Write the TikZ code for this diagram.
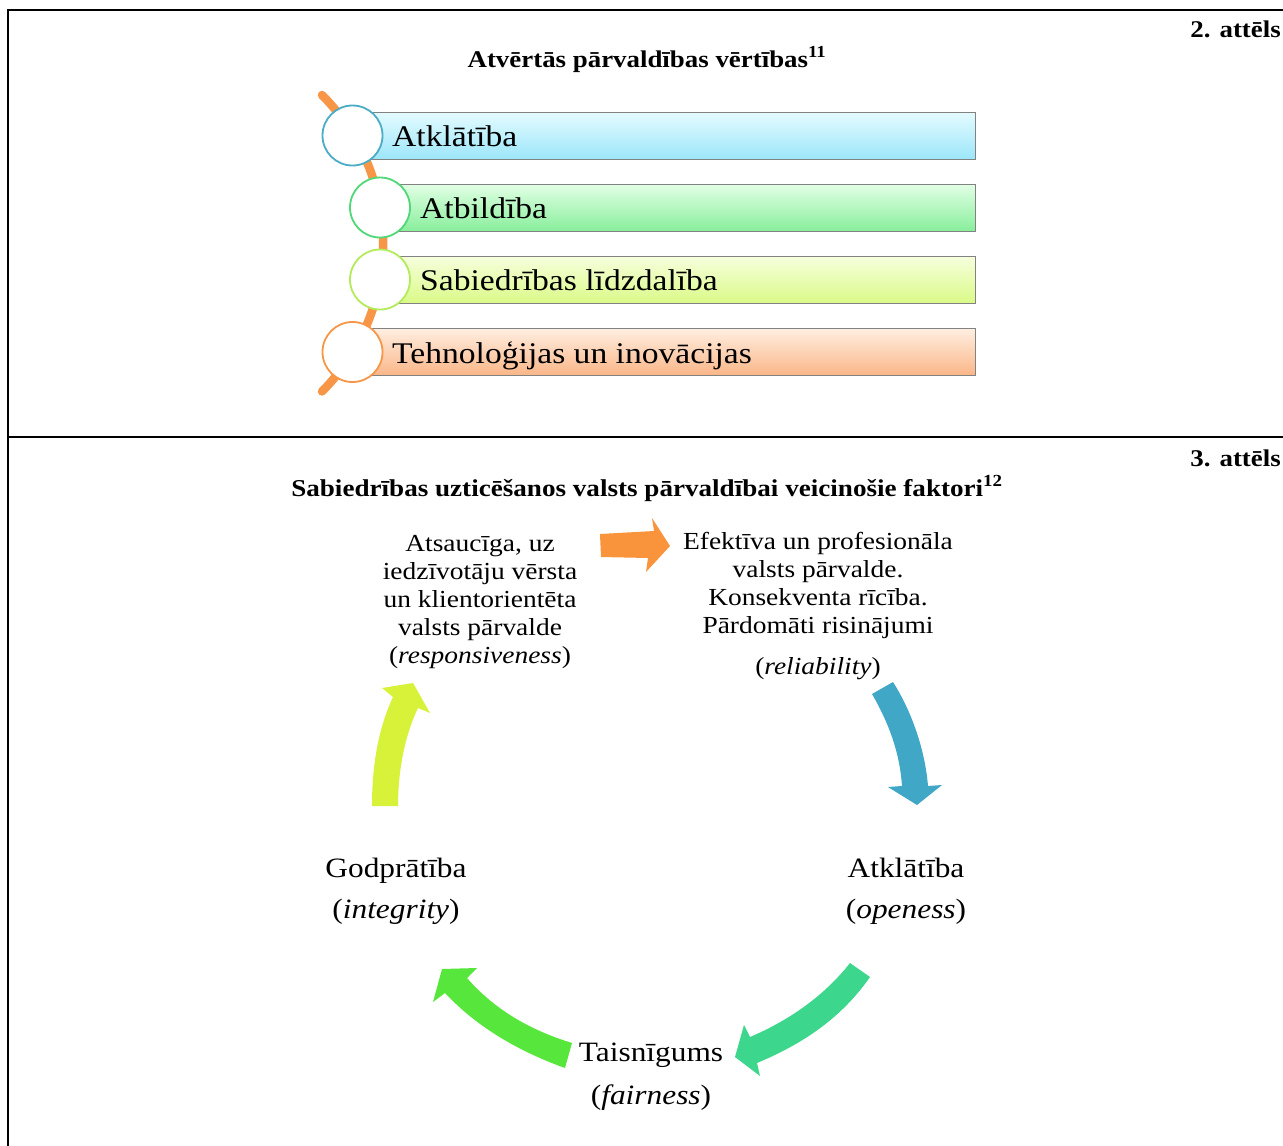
\documentclass[tikz,border=0pt]{standalone}
\usepackage{fontspec}
\setmainfont{Liberation Serif}[FakeStretch=1.12]
\definecolor{cblue}{RGB}{75,172,198}
\definecolor{cgreen}{RGB}{80,215,120}
\definecolor{clime}{RGB}{180,235,90}
\definecolor{corange}{RGB}{247,150,70}
\definecolor{aorange}{RGB}{249,148,60}
\definecolor{ablue}{RGB}{64,168,198}
\definecolor{ateal}{RGB}{60,215,140}
\definecolor{agreen}{RGB}{87,230,60}
\definecolor{ayellow}{RGB}{216,242,58}
\definecolor{barline}{RGB}{130,130,130}
\tikzset{
  bar/.style={draw=barline, line width=1.2pt, anchor=north west, minimum height=47pt, inner sep=0pt},
  ring/.style={circle, draw, fill=white, line width=1.8pt, minimum size=60pt, inner sep=0pt},
  bartext/.style={anchor=base west, inner sep=0pt, font=\fontsize{30}{36}\selectfont},
  ttl/.style={anchor=base, inner sep=0pt, font=\fontsize{24}{28}\selectfont\bfseries},
  fig/.style={anchor=base east, inner sep=0pt, font=\fontsize{24}{28}\selectfont\bfseries},
  body/.style={anchor=base, inner sep=0pt, align=center, font=\fontsize{24.5}{28}\selectfont},
  big/.style={anchor=base, inner sep=0pt, font=\fontsize{28}{32}\selectfont},
}
\begin{document}
\begin{tikzpicture}[x=1pt,y=-1pt]
\useasboundingbox (0,0) rectangle (1283,1146);
\fill[white] (0,0) rectangle (1283,1146);
% frame
\draw[line width=2pt] (8,1146) -- (8,10) -- (1283,10);
\draw[line width=2pt] (8,437) -- (1283,437);
% ---- figure 2
\node[fig] (f2) at (1281,37) {2. attēls};
\node[ttl] (t2) at (647,67) {Atvērtās pārvaldības vērtības\textsuperscript{11}};
\draw[corange, line width=8.5pt, line cap=round] (322,95) arc[start angle=44.9, end angle=-44.9, radius=210pt];
\node[bar, top color={rgb,255:red,228;green,251;blue,255}, bottom color={rgb,255:red,155;green,230;blue,250}, minimum width=623pt] (b1) at (352,112) {};
\node[bar, top color={rgb,255:red,225;green,255;blue,228}, bottom color={rgb,255:red,135;green,238;blue,155}, minimum width=595pt] (b2) at (380,184) {};
\node[bar, top color={rgb,255:red,246;green,255;blue,220}, bottom color={rgb,255:red,218;green,250;blue,135}, minimum width=595pt] (b3) at (380,256) {};
\node[bar, top color={rgb,255:red,255;green,238;blue,225}, bottom color={rgb,255:red,250;green,182;blue,135}, minimum width=623pt] (b4) at (352,328) {};
\node[ring, draw=cblue] (c1) at (352.5,135.5) {};
\node[ring, draw=cgreen] (c2) at (380,207.5) {};
\node[ring, draw=clime] (c3) at (380,279.5) {};
\node[ring, draw=corange] (c4) at (352.5,352) {};
\node[bartext] (l1) at (392,146) {Atklātība};
\node[bartext] (l2) at (420,218) {Atbildība};
\node[bartext] (l3) at (420,290) {Sabiedrības līdzdalība};
\node[bartext] (l4) at (392,363) {Tehnoloģijas un inovācijas};
% ---- figure 3
\node[fig] (f3) at (1281,466) {3. attēls};
\node[ttl, font=\fontsize{24.2}{28}\selectfont\bfseries] (t3) at (647,496) {Sabiedrības uzticēšanos valsts pārvaldībai veicinošie faktori\textsuperscript{12}};
\node[body] (resp) at (480,663) {Atsaucīga, uz\\iedzīvotāju vērsta\\un klientorientēta\\valsts pārvalde\\(\textit{responsiveness})};
\node[body] (eff) at (818,633) {Efektīva un profesionāla\\valsts pārvalde.\\Konsekventa rīcība.\\Pārdomāti risinājumi};
\node[body] (rel) at (818,674) {(\textit{reliability})};
\node[big] (atk) at (906,877) {Atklātība};
\node[big] (ope) at (906,918) {(\textit{openess})};
\node[big] (god) at (396,877) {Godprātība};
\node[big] (int) at (396,918) {(\textit{integrity})};
\node[big] (tai) at (651,1061) {Taisnīgums};
\node[big] (fai) at (651,1104) {(\textit{fairness})};
% arrows
\fill[aorange] (600,534) -- (654,531) -- (652,518) -- (670,546) -- (646,572) -- (648,558) -- (601,557) -- cycle;
\fill[ablue] (872,694) .. controls (890,725) and (900,755) .. (902,786) -- (888,787) -- (917,805) -- (942,785) -- (928,786) .. controls (925,750) and (912,712) .. (893,682) -- cycle;
\fill[ateal] (870,977) .. controls (840,1020) and (800,1045) .. (757,1063) -- (760,1076) -- (735,1057) -- (744,1025) -- (750,1037) .. controls (790,1020) and (825,995) .. (850,963) -- cycle;
\fill[agreen] (572,1043) .. controls (530,1030) and (495,1010) .. (467,978) -- (477,968) -- (442,969) -- (433,1002) -- (445,993) .. controls (475,1025) and (515,1050) .. (565,1068) -- cycle;
\fill[ayellow] (372,806) .. controls (372,760) and (380,725) .. (393,697) -- (382,688) -- (413,683) -- (430,713) -- (418,708) .. controls (405,735) and (398,770) .. (398,806) -- cycle;
\end{tikzpicture}
\end{document}
